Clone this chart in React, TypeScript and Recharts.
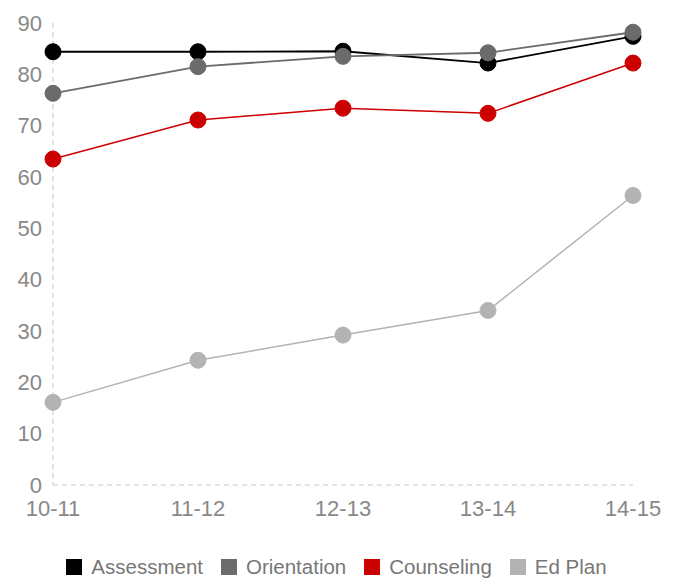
import React from 'react';
import { LineChart, Line, XAxis, YAxis, Legend } from 'recharts';

const categories = ['10-11', '11-12', '12-13', '13-14', '14-15'];
const assessment = [84.4, 84.4, 84.5, 82.2, 87.4];
const orientation = [76.3, 81.5, 83.5, 84.2, 88.2];
const counseling = [63.5, 71.1, 73.4, 72.4, 82.2];
const edPlan = [16.1, 24.3, 29.2, 34.0, 56.4];
const yTicks = [0, 10, 20, 30, 40, 50, 60, 70, 80, 90];

const seriesDefs = [
  { key: 'Assessment', values: assessment, color: '#000000', width: 1.8 },
  { key: 'Orientation', values: orientation, color: '#6b6b6b', width: 1.8 },
  { key: 'Counseling', values: counseling, color: '#cc0000', width: 1.5 },
  { key: 'Ed Plan', values: edPlan, color: '#b3b3b3', width: 1.5 },
];

const data = categories.map((c, i) => {
  const row: any = { name: c };
  seriesDefs.forEach((s) => {
    row[s.key] = s.values[i];
  });
  return row;
});

const FONT = '"Liberation Sans", Arial, sans-serif';

const LegendContent = () => {
  return (
    <div style={{ display: 'flex', justifyContent: 'center', alignItems: 'center', fontFamily: FONT, fontSize: 20.5, color: '#777', paddingLeft: 40 }}>
      {seriesDefs.map((s, i) => (
        <div key={s.key} style={{ display: 'flex', alignItems: 'center', marginRight: i < seriesDefs.length - 1 ? 18 : 0 }}>
          <svg width={16} height={16} style={{ marginRight: 9 }}>
            <rect x={0} y={0} width={16} height={16} fill={s.color} />
          </svg>
          <span>{s.key}</span>
        </div>
      ))}
    </div>
  );
};

export default function App() {
  return (
    <div style={{ position: 'absolute', left: 0, top: 0 }}>
      <LineChart width={676} height={583} data={data} margin={{ top: 23, right: 43, bottom: 4, left: 0 }}>
        <XAxis
          dataKey="name"
          stroke="#c8c8c8"
          strokeDasharray="5 4"
          tickLine={false}
          tickMargin={9}
          height={70}
          tick={{ fill: '#888', fontSize: 22, fontFamily: FONT }}
          interval={0}
        />
        <YAxis
          domain={[0, 90]}
          ticks={yTicks}
          width={53}
          stroke="#c8c8c8"
          strokeDasharray="5 4"
          tickLine={false}
          tickMargin={5}
          tick={{ fill: '#888', fontSize: 22, fontFamily: FONT }}
          interval={0}
        />
        <Legend verticalAlign="bottom" content={<LegendContent />} />
        {seriesDefs.map((s) => (
          <Line
            key={s.key}
            dataKey={s.key}
            stroke={s.color}
            strokeWidth={s.width}
            dot={{ r: 8, fill: s.color, stroke: s.color, strokeWidth: 1 }}
            activeDot={false}
            isAnimationActive={false}
          />
        ))}
      </LineChart>
    </div>
  );
}
